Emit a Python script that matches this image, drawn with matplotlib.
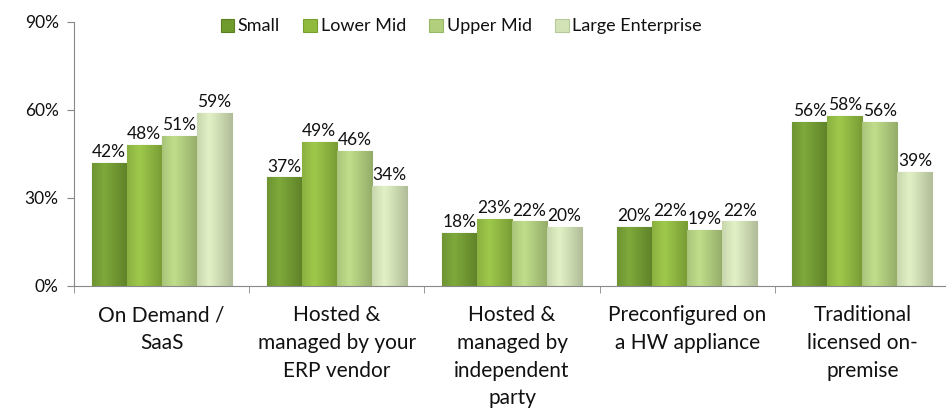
import matplotlib
matplotlib.use("Agg")
import matplotlib.pyplot as plt
import numpy as np
from matplotlib.colors import to_rgb

plt.rcParams['font.family'] = ['Lato', 'DejaVu Sans']

categories = ["On Demand /\nSaaS", "Hosted &\nmanaged by your\nERP vendor",
              "Hosted &\nmanaged by\nindependent\nparty", "Preconfigured on\na HW appliance",
              "Traditional\nlicensed on-\npremise"]
series_names = ["Small", "Lower Mid", "Upper Mid", "Large Enterprise"]
small = [42, 37, 18, 20, 56]
lower_mid = [48, 49, 23, 22, 58]
upper_mid = [51, 46, 22, 19, 56]
large = [59, 34, 20, 22, 39]
yticks = [0, 30, 60, 90]
ytick_labels = ["0%", "30%", "60%", "90%"]

colors = ["#6f9a2c", "#8fba3c", "#b1cf7c", "#d3e3b6"]
edge_colors = ["#5a7f22", "#77a02e", "#97b866", "#b5c99a"]
all_series = [small, lower_mid, upper_mid, large]

fig = plt.figure(figsize=(9.46, 4.09), dpi=100)
ax = fig.add_axes([74 / 946, 1 - 286 / 409, 876 / 946, 264 / 409])

n = len(categories)
x = np.arange(n)
bw = 0.2
for i, (vals, c) in enumerate(zip(all_series, colors)):
    offs = (i - 1.5) * bw
    bars = ax.bar(x + offs, vals, width=bw, color=c, edgecolor=edge_colors[i], linewidth=0.8,
                  label=series_names[i], zorder=2)
    base = np.array(to_rgb(c))
    t = np.linspace(0, 1, 32)
    shade = 1.0 - 0.18 * np.abs(t - 0.35) * 1.6
    grad = np.clip(base[None, :] * shade[:, None] + 0.06 * (1 - np.abs(t - 0.3))[:, None], 0, 1)
    img = grad[None, :, :]
    for b, v in zip(bars, vals):
        x0 = b.get_x(); w = b.get_width(); h = b.get_height()
        im = ax.imshow(img, extent=[x0, x0 + w, 0, h], aspect='auto', zorder=2.5,
                       interpolation='bilinear')
        im.set_clip_path(b)
        ax.text(b.get_x() + w / 2, h + 1.0, f"{v}%", ha='center', va='bottom',
                fontsize=12.5, color='#111111', zorder=4)

ax.set_xlim(-0.5, n - 0.5)
ax.set_ylim(0, 90)
ax.set_yticks(yticks)
ax.set_yticklabels(ytick_labels, fontsize=12.5)
ax.set_xticks(x)
ax.set_xticklabels(categories, fontsize=15, linespacing=1.48, color='#111111')
ax.tick_params(axis='x', length=0, pad=14)
ax.set_xticks(np.arange(n + 1) - 0.5, minor=True)
ax.tick_params(axis='x', which='minor', length=5, color='#888888')
ax.tick_params(axis='y', length=5, color='#888888', pad=6, labelcolor='#111111')
for s in ['top', 'right']:
    ax.spines[s].set_visible(False)
for s in ['left', 'bottom']:
    ax.spines[s].set_color('#888888')

leg = ax.legend(loc='upper center', bbox_to_anchor=(0.442, 1.075), ncol=4, frameon=False,
                fontsize=13, handlelength=0.75, handleheight=0.75, handletextpad=0.2,
                columnspacing=1.3)
for t in leg.get_texts():
    t.set_color('#111111')

fig.savefig("out.png", dpi=100)
